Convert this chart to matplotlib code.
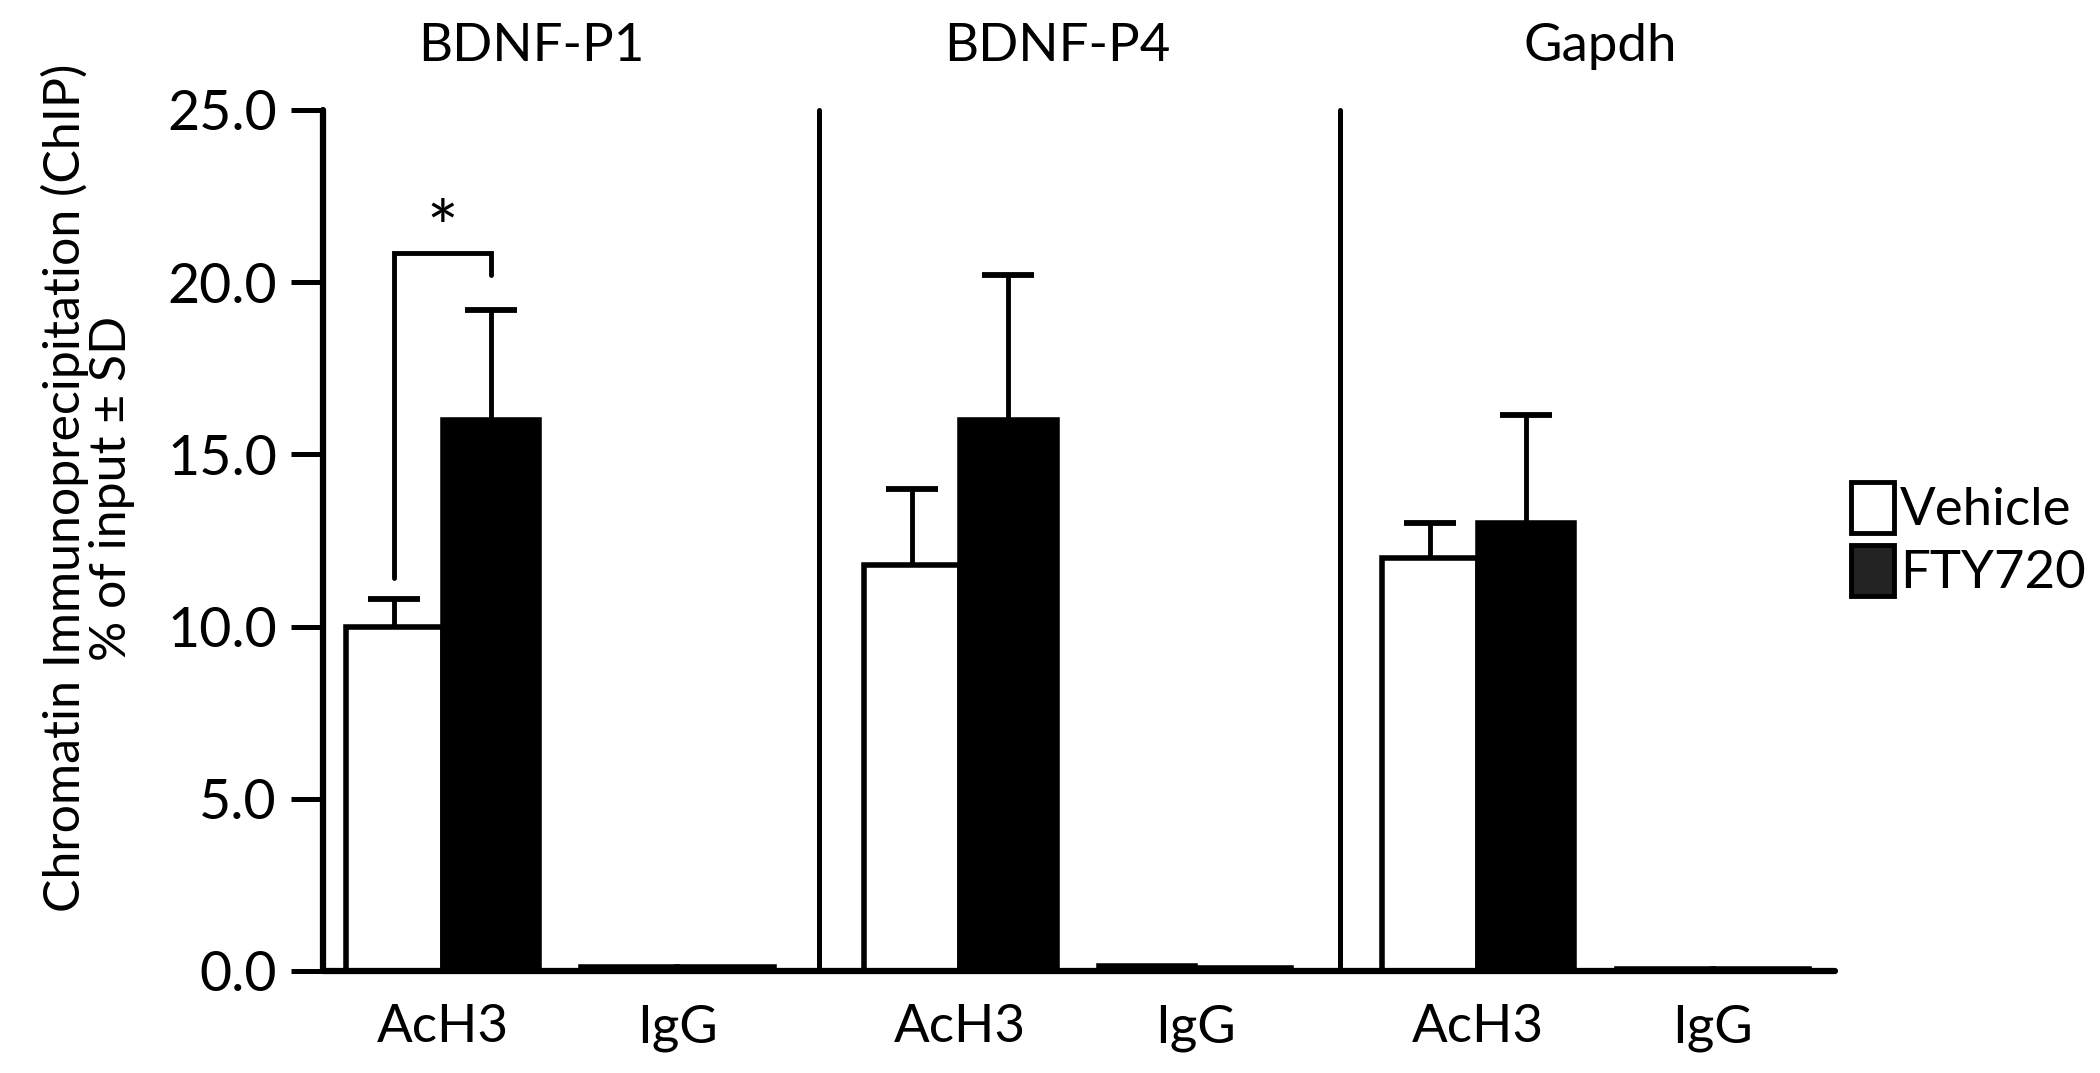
import matplotlib
matplotlib.use("Agg")
import matplotlib.pyplot as plt
from matplotlib.patches import Patch
import numpy as np

plt.rcParams['font.family'] = ['Lato', 'DejaVu Sans']

# ---- data ----
genes = ['BDNF-P1', 'BDNF-P4', 'Gapdh']
antibodies = ['AcH3', 'IgG']
series = ['Vehicle', 'FTY720']

vehicle_ach3 = [10.0, 11.8, 12.0]
vehicle_ach3_sd = [0.8, 2.2, 1.0]
fty_ach3 = [16.0, 16.0, 13.0]
fty_ach3_sd = [3.2, 4.2, 3.15]
vehicle_igg = [0.12, 0.15, 0.05]
fty_igg = [0.12, 0.10, 0.05]

y_ticks = [0.0, 5.0, 10.0, 15.0, 20.0, 25.0]
y_tick_labels = ['0.0', '5.0', '10.0', '15.0', '20.0', '25.0']

# significance bracket (BDNF-P1, AcH3)
sig_low, sig_top, sig_right_end = 11.4, 20.85, 20.2
sig_label = '*'

ylabel = 'Chromatin Immunoprecipitation (ChIP)\n% of input \u00b1 SD'

# ---- layout ----
fig = plt.figure(figsize=(21, 10.73), dpi=100)
ax = fig.add_axes([0.1537, 0.0951, 0.7201, 0.8024])

panel_step = 2.205
bw = 0.41
off = 0.205
ach3_x = np.array([i * panel_step for i in range(len(genes))])
igg_x = ach3_x + 1.0

edge_lw = 4.0
ax.bar(ach3_x - off, vehicle_ach3, width=bw, color='white', edgecolor='black', linewidth=edge_lw, zorder=2)
ax.bar(ach3_x + off, fty_ach3, width=bw, color='black', edgecolor='black', linewidth=edge_lw, zorder=2)
ax.bar(igg_x - off, vehicle_igg, width=bw, color='white', edgecolor='black', linewidth=edge_lw, zorder=2)
ax.bar(igg_x + off, fty_igg, width=bw, color='black', edgecolor='black', linewidth=edge_lw, zorder=2)

for xs, ys, sds in [(ach3_x - off, vehicle_ach3, vehicle_ach3_sd),
                    (ach3_x + off, fty_ach3, fty_ach3_sd)]:
    eb = ax.errorbar(xs, ys, yerr=[np.zeros(len(ys)), sds], fmt='none', ecolor='black',
                     elinewidth=3.5, capsize=18.7, capthick=4.2, zorder=3)
    eb[1][0].set_visible(False)

# separators
for k in range(len(genes) - 1):
    sx = (igg_x[k] + ach3_x[k + 1]) / 2 + (0.015 if k == 1 else 0.0)
    ax.plot([sx, sx], [0, 25], color='black', lw=3.6, solid_capstyle='round', zorder=1,
            clip_on=False)

# significance bracket
bx0 = ach3_x[0] - off
bx1 = ach3_x[0] + off
ax.plot([bx0, bx0, bx1, bx1], [sig_low, sig_top, sig_top, sig_right_end], color='black',
        lw=3.5, solid_capstyle='round', solid_joinstyle='miter', zorder=3)
ax.text((bx0 + bx1) / 2, sig_top + 0.55, sig_label, ha='center', va='center', fontsize=54)

# titles
title_x = [0.38, 2.62, 4.93]
for gx, g in zip(title_x, genes):
    ax.text(gx, 26.85, g, ha='center', va='center', fontsize=38, clip_on=False)

ax.set_xlim(-0.51, 5.93)
ax.set_ylim(0, 25)
ax.set_yticks(y_ticks)
ax.set_yticklabels(y_tick_labels, fontsize=40)
xt = np.concatenate([ach3_x, igg_x])
xl = [antibodies[0]] * len(genes) + [antibodies[1]] * len(genes)
ax.set_xticks(xt)
ax.set_xticklabels(xl, fontsize=38)
ax.tick_params(axis='x', length=0, pad=24)
ax.tick_params(axis='y', direction='out', length=23, width=3.6, pad=10)

for s in ['top', 'right']:
    ax.spines[s].set_visible(False)
for s in ['left', 'bottom']:
    ax.spines[s].set_linewidth(4.5)
    ax.spines[s].set_capstyle('round')

fig.text(0.042, 0.545, ylabel, rotation=90, ha='center', va='center', fontsize=36,
         multialignment='center', linespacing=1.0)

handles = [Patch(facecolor='white', edgecolor='black', linewidth=3.5, label=series[0]),
           Patch(facecolor='#222222', edgecolor='black', linewidth=3.5, label=series[1])]
fig.legend(handles=handles, loc='center left', bbox_to_anchor=(0.869, 0.497), frameon=False,
           fontsize=38, handlelength=0.8, handleheight=1.1, handletextpad=0.12,
           labelspacing=0.2, borderpad=0.0)

fig.savefig('out.png', dpi=100)
